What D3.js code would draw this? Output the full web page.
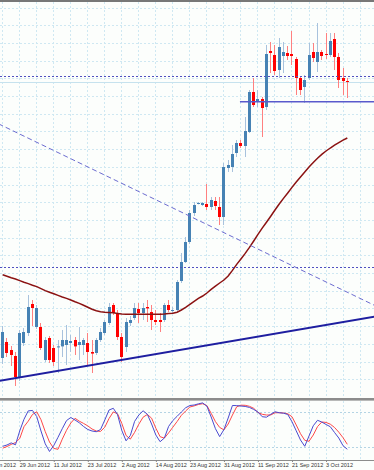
<!DOCTYPE html>
<html>
<head>
<meta charset="utf-8">
<script src="https://cdn.jsdelivr.net/npm/d3@7"></script>
<style>
  body { margin: 0; background: #fff; }
  svg { display: block; }
  .axis text { font-family: "Liberation Sans", Arial, sans-serif; font-size: 5.5px; fill: #333; }
</style>
</head>
<body>
<svg id="chart" width="374" height="470"></svg>
<script>
// bar index of each date label, and the label text
const dateTicks = [-4, 4, 12, 20, 28, 36, 44, 52, 60, 68, 76];
const dateLabels = ["19 Jun 2012", "29 Jun 2012", "11 Jul 2012", "23 Jul 2012", "2 Aug 2012",
  "14 Aug 2012", "23 Aug 2012", "31 Aug 2012", "11 Sep 2012", "21 Sep 2012", "3 Oct 2012"];

// daily OHLC, one value per bar
const open = [1621, 1629, 1625, 1622, 1611, 1628.5, 1633.5, 1648, 1636.5, 1636.5,
  1620, 1631, 1626, 1626.3, 1626.8, 1627.5, 1628.5, 1630, 1627.5, 1627.5,
  1628.5, 1624, 1623.5, 1630, 1633.5, 1638.5, 1647.5, 1643.5, 1631.5, 1626.5,
  1638.5, 1641, 1645.5, 1643.5, 1646.5, 1644, 1640, 1640, 1640, 1647.5,
  1644.8, 1645, 1659.5, 1669, 1679, 1693.5, 1698.2, 1697.5, 1698, 1696.5,
  1699.5, 1696.5, 1691.5, 1716, 1716.5, 1723.5, 1728.5, 1727, 1734, 1754,
  1749, 1750.5, 1746.5, 1774.5, 1772.5, 1765, 1772, 1773.5, 1773, 1770.5,
  1761, 1756.5, 1761, 1774, 1769, 1774, 1773, 1772.5, 1780.5, 1771.5,
  1761, 1759.5];
const high = [1637, 1631, 1627, 1624, 1635, 1636, 1652.5, 1650, 1647.5, 1638.5,
  1631.5, 1632, 1627.5, 1630, 1635, 1637.5, 1632.5, 1631.5, 1636.5, 1631,
  1633.5, 1630, 1631, 1636, 1640, 1648.5, 1648.5, 1645, 1633.5, 1641,
  1642, 1648.5, 1648.5, 1648.5, 1650, 1647.5, 1645, 1643.5, 1648.5, 1650,
  1646.5, 1660, 1673.5, 1681.5, 1695, 1699, 1699, 1699, 1708, 1701.5,
  1701.5, 1701.5, 1718.5, 1720, 1727.5, 1730, 1730, 1741.5, 1755, 1761,
  1755, 1751.5, 1777.5, 1779, 1777.5, 1781, 1779, 1777, 1784.5, 1771.5,
  1761.5, 1762.5, 1778.5, 1778.5, 1788.5, 1775, 1783.5, 1783.5, 1783.5, 1773.5,
  1766, 1761];
const low = [1618, 1621.5, 1617, 1607, 1609.5, 1627, 1632, 1637, 1635.5, 1625,
  1619, 1618.5, 1617, 1613.5, 1621.5, 1617.5, 1624, 1622.5, 1620, 1622.5,
  1617.5, 1613.5, 1622.5, 1629, 1632.5, 1637.5, 1642.5, 1630, 1619, 1624,
  1637, 1640, 1638.5, 1640, 1639, 1635, 1637.5, 1634, 1639, 1644,
  1643.5, 1644, 1658.5, 1668.5, 1678, 1692, 1697.8, 1697, 1695, 1695,
  1695, 1687.5, 1687.5, 1714, 1714, 1721.5, 1726, 1721.5, 1733.5, 1746.5,
  1746.5, 1731.5, 1745, 1763.5, 1762.5, 1761, 1763.5, 1770, 1767.5, 1752.5,
  1752.5, 1748.5, 1760, 1769, 1764, 1770, 1770.5, 1771.5, 1765, 1756,
  1752.5, 1751];
const close = [1634, 1623.5, 1622.5, 1611.5, 1633.5, 1634, 1646.5, 1646, 1646, 1626,
  1630, 1620, 1619, 1626.8, 1630, 1630, 1629.5, 1626.8, 1629, 1630,
  1624, 1623.2, 1630, 1634, 1639, 1646.5, 1643.5, 1631.5, 1621.5, 1639,
  1640, 1646, 1643.5, 1646, 1645.8, 1640, 1639, 1639, 1647.5, 1645,
  1645, 1659, 1669, 1679, 1693.5, 1697.5, 1698.5, 1698.5, 1696.5, 1700,
  1697, 1691.5, 1716.5, 1717.5, 1723, 1728.5, 1727, 1734.5, 1754, 1747.5,
  1750.5, 1746, 1773, 1773.5, 1764.5, 1776.5, 1774, 1772, 1772, 1761,
  1755, 1760, 1772.5, 1771, 1774, 1772, 1772.5, 1779.5, 1771.5, 1760,
  1759.5, 1759];

// moving average line
const ma = [1662.6, 1661.9, 1661.1, 1660.5, 1659.7, 1658.9, 1658.2, 1657.4, 1656.7, 1655.7,
  1654.7, 1653.9, 1653.1, 1652.3, 1651.5, 1650.8, 1650, 1649.1, 1648.3, 1647.4,
  1646.4, 1645.4, 1644.6, 1644.1, 1643.9, 1643.8, 1643.6, 1643.3, 1643, 1642.9,
  1642.9, 1642.9, 1642.9, 1642.9, 1642.9, 1642.9, 1642.9, 1642.9, 1643, 1643.2,
  1643.4, 1643.9, 1645, 1646.3, 1647.8, 1649.3, 1650.8, 1652, 1653.5, 1655.3,
  1656.9, 1658.5, 1660, 1662, 1664.8, 1667.8, 1670.5, 1673.3, 1676.3, 1679.5,
  1682.8, 1685.9, 1688.9, 1691.9, 1695, 1698, 1700.8, 1703.5, 1706.3, 1709,
  1711.5, 1714, 1716.5, 1718.8, 1720.9, 1722.8, 1724.5, 1726, 1727.4, 1728.7,
  1729.9, 1731];

// stochastic oscillator
const stochK = [22.8, 25, 28.6, 25.3, 48.8, 68.7, 83, 83.8, 73.3, 48.8,
  27, 14, 24.1, 38.1, 52.7, 66.5, 71.8, 67.5, 62.8, 56.5,
  51.4, 48.8, 47.6, 51.4, 67.5, 84.5, 87.4, 76.4, 49.7, 32.1,
  41.2, 65.1, 76, 83.2, 77.2, 60.7, 42, 30.6, 36.9, 56.6,
  66.7, 73.8, 81.1, 88.3, 92.2, 93, 95, 96.6, 91, 72.6,
  52.9, 39.3, 51.2, 70.9, 92.2, 92, 91.3, 90.6, 88.9, 85.5,
  81.1, 73.1, 72.3, 77.2, 81.5, 79.9, 79.1, 76.9, 64.6, 49.1,
  33.5, 22.8, 40.3, 57.7, 67, 64.1, 59.9, 56.1, 46.3, 36.9,
  23.8, 17.7];
const stochD = [19.6, 22.4, 26, 29.1, 35.9, 56.1, 65.5, 76.9, 81.6, 68,
  47.8, 30.1, 19.2, 17.7, 34.9, 50, 62.4, 70.4, 65.5, 61.7,
  57.5, 52.2, 48.8, 48.1, 55.3, 70.1, 81.3, 78.1, 61.6, 41.2,
  35, 46.4, 60.4, 72.3, 76.9, 70.6, 53.6, 39.1, 36.7, 45.6,
  55.3, 65, 75.5, 82.8, 89.6, 91.5, 93.9, 95.2, 92, 78.9,
  64.8, 54.9, 50.7, 60.7, 75.9, 90, 92.7, 92.5, 90.8, 87.4,
  80.3, 77.2, 76, 76, 79.8, 79.9, 79.4, 78.1, 73.1, 59,
  44.2, 33, 31.3, 42, 56.3, 64.1, 63.4, 60.4, 54.8, 46.8,
  37.4, 26.2];
const stochLevels = [80, 20];

// drawn objects: trendlines as [bar, price] pairs, horizontal levels
const trendDown = [[-1, 1738.1], [88, 1646.7]];
const trendUp = [[-1, 1609.5], [88, 1641.9]];
const dottedLevels = [1761.9, 1666.3];
const resistStart = 56, resistLevel = 1749.1;

const width = 374, height = 470;
const svg = d3.select("#chart");

svg.append("rect").attr("width", width).attr("height", height).attr("fill", "#fcfefc");

const x = d3.scaleLinear().domain([0, 81]).range([2.7, 347.3]);
const y = d3.scaleLinear().domain([1800, 1602.5]).range([0, 395]);
const ys = d3.scaleLinear().domain([0, 100]).range([459.7, 400.9]);
const px = v => Math.floor(v) + 0.5;

const defs = svg.append("defs");
defs.append("clipPath").attr("id", "clipMain").append("rect")
  .attr("x", 0).attr("y", 2).attr("width", width).attr("height", 396);
defs.append("clipPath").attr("id", "clipOsc").append("rect")
  .attr("x", 0).attr("y", 401).attr("width", width).attr("height", 59);

const gridColor = "#cfe8f2";
const gridBars = d3.range(0, 88, 4);

// main panel
const main = svg.append("g").attr("clip-path", "url(#clipMain)");

main.selectAll("line.vgrid").data(gridBars).join("line")
  .attr("class", "vgrid")
  .attr("x1", d => px(x(d))).attr("x2", d => px(x(d)))
  .attr("y1", 2).attr("y2", 397)
  .attr("stroke", gridColor).attr("stroke-dasharray", "2,2");

main.selectAll("line.hgrid").data(d3.range(8, 395, 17.7)).join("line")
  .attr("class", "hgrid")
  .attr("x1", 0).attr("x2", width)
  .attr("y1", d => px(d)).attr("y2", d => px(d))
  .attr("stroke", gridColor).attr("stroke-dasharray", "2,2");

// bid line
main.append("line")
  .attr("x1", 0).attr("x2", width)
  .attr("y1", px(y(close[close.length - 1]))).attr("y2", px(y(close[close.length - 1])))
  .attr("stroke", "#c6e2ee");

// candles
const bars = open.map((o, i) => ({ i, o, h: high[i], l: low[i], c: close[i], up: close[i] >= o }));

main.selectAll("line.wick").data(bars).join("line")
  .attr("class", "wick")
  .attr("x1", d => px(x(d.i))).attr("x2", d => px(x(d.i)))
  .attr("y1", d => y(d.h)).attr("y2", d => y(d.l))
  .attr("stroke", d => d.up ? "#a8c2dd" : "#ff8080");

main.selectAll("rect.body").data(bars).join("rect")
  .attr("class", "body")
  .attr("x", d => Math.floor(x(d.i)) - 1)
  .attr("width", 3)
  .attr("y", d => y(Math.max(d.o, d.c)))
  .attr("height", d => Math.max(1, Math.abs(y(d.o) - y(d.c))))
  .attr("fill", d => d.up ? "#4682b4" : "#ff0000");

// moving average
main.append("path")
  .datum(ma)
  .attr("fill", "none")
  .attr("stroke", "#8b1212")
  .attr("stroke-width", 1.5)
  .attr("d", d3.line().x((d, i) => x(i)).y(d => y(d)));

// horizontal dotted levels
main.selectAll("line.level").data(dottedLevels).join("line")
  .attr("class", "level")
  .attr("x1", 0).attr("x2", width)
  .attr("y1", d => px(y(d))).attr("y2", d => px(y(d)))
  .attr("stroke", "#5050c0").attr("stroke-dasharray", "2,2");

// resistance line
main.append("line")
  .attr("x1", x(resistStart) - 1).attr("x2", width)
  .attr("y1", y(resistLevel)).attr("y2", y(resistLevel))
  .attr("stroke", "#5a5acc").attr("stroke-width", 1.5);

// trendlines
const tl = d3.line().x(d => x(d[0])).y(d => y(d[1]));
main.append("path").datum(trendDown)
  .attr("fill", "none").attr("stroke", "#6c6cd0")
  .attr("stroke-dasharray", "5,3").attr("d", tl);
main.append("path").datum(trendUp)
  .attr("fill", "none").attr("stroke", "#1e1ea0")
  .attr("stroke-width", 2).attr("d", tl);

// oscillator panel
const osc = svg.append("g").attr("clip-path", "url(#clipOsc)");

osc.selectAll("line.vgrid").data(gridBars).join("line")
  .attr("class", "vgrid")
  .attr("x1", d => px(x(d))).attr("x2", d => px(x(d)))
  .attr("y1", 401).attr("y2", 460)
  .attr("stroke", gridColor).attr("stroke-dasharray", "2,2");

osc.selectAll("line.lvl").data(stochLevels).join("line")
  .attr("class", "lvl")
  .attr("x1", 0).attr("x2", width)
  .attr("y1", d => px(ys(d))).attr("y2", d => px(ys(d)))
  .attr("stroke", "#b4d4e4").attr("stroke-dasharray", "2,2");

const sl = d3.line().x((d, i) => x(i)).y(d => ys(d));
osc.append("path").datum(stochD)
  .attr("fill", "none").attr("stroke", "#ff4848").attr("d", sl);
osc.append("path").datum(stochK)
  .attr("fill", "none").attr("stroke", "#4a4ad0").attr("d", sl);

// frame lines
svg.append("rect").attr("x", 0).attr("y", 0).attr("width", width).attr("height", 2).attr("fill", "#777");
svg.append("rect").attr("x", 0).attr("y", 398).attr("width", width).attr("height", 2.6).attr("fill", "#8c8c8c");
svg.append("line").attr("x1", 0).attr("x2", width).attr("y1", 460.5).attr("y2", 460.5).attr("stroke", "#8c8c8c");

// date axis
const xAxis = d3.axisBottom(x)
  .tickValues(dateTicks)
  .tickFormat((d, i) => dateLabels[i])
  .tickSize(2)
  .tickSizeOuter(0);

const gx = svg.append("g")
  .attr("class", "axis")
  .attr("transform", "translate(0,460)")
  .call(xAxis);

gx.select(".domain").remove();
gx.selectAll(".tick line").attr("stroke", "#888");
gx.selectAll(".tick text")
  .attr("text-anchor", "start")
  .attr("x", -0.5)
  .attr("y", 7.3)
  .attr("dy", 0)
  .attr("font-size", null)
  .attr("font-family", null);
</script>
</body>
</html>
